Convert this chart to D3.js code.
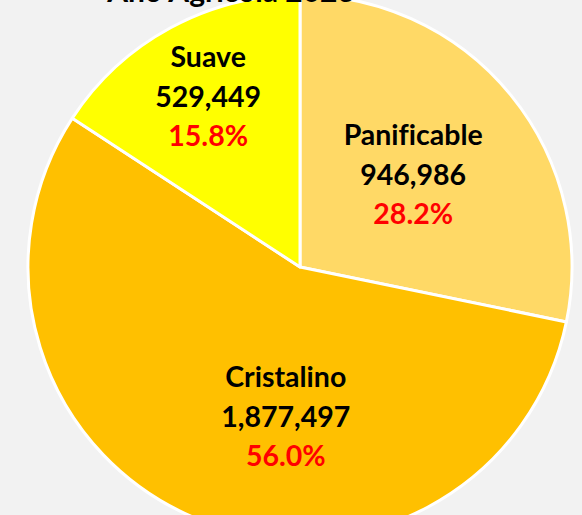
<!DOCTYPE html>
<html lang="es">
<head>
<meta charset="utf-8">
<script src="https://d3js.org/d3.v7.min.js"></script>
<style>
  html, body { margin: 0; padding: 0; background: #F2F2F2; }
  svg { display: block; }
  text { font-family: Lato, "Open Sans", sans-serif; font-weight: 700; font-variant-ligatures: none; }
</style>
</head>
<body>
<svg id="chart" width="582" height="515"></svg>
<script>
// data
const categories = ["Panificable", "Cristalino", "Suave"];
const values = [946986, 1877497, 529449];
const colors = ["#FFD966", "#FFC000", "#FFFF00"];
const title = "Año Agrícola 2023";

// label placement (Excel labels were moved by hand): radius and angle shift in degrees
const labelRadius = [146, 151, 193];
const labelShift = [0, -17, 0];

const W = 582, H = 515;
const cx = 300, cy = 267, R = 272;

const svg = d3.select("#chart");
svg.append("rect").attr("width", W).attr("height", H).attr("fill", "#F2F2F2");

const total = d3.sum(values);
const rows = categories.map((c, i) => ({ name: c, value: values[i], color: colors[i], i: i }));

const pie = d3.pie().sort(null).value(d => d.value);
const arc = d3.arc().innerRadius(0).outerRadius(R);
const arcs = pie(rows);

const g = svg.append("g").attr("transform", `translate(${cx},${cy})`);

g.selectAll("path.slice")
  .data(arcs)
  .enter()
  .append("path")
    .attr("class", "slice")
    .attr("d", arc)
    .attr("fill", d => d.data.color)
    .attr("stroke", "#FFFFFF")
    .attr("stroke-width", 3)
    .attr("stroke-linejoin", "round");

const fmtNum = d3.format(",");
const fmtPct = d3.format(".1%");

const labels = g.selectAll("text.lbl")
  .data(arcs)
  .enter()
  .append("text")
    .attr("class", "lbl")
    .attr("text-anchor", "middle")
    .attr("font-size", 28.5)
    .attr("transform", d => {
      const a = (d.startAngle + d.endAngle) / 2 + labelShift[d.data.i] * Math.PI / 180;
      const r = labelRadius[d.data.i];
      return `translate(${r * Math.sin(a)},${-r * Math.cos(a)})`;
    });

labels.append("tspan").attr("x", 0).attr("y", -30).attr("fill", "#000").text(d => d.data.name);
labels.append("tspan").attr("x", 0).attr("y", 10).attr("fill", "#000").text(d => fmtNum(d.data.value));
labels.append("tspan").attr("x", 0).attr("y", 49).attr("fill", "#FF0000").text(d => fmtPct(d.data.value / total));

// title sits mostly above the visible area, as in the reference
svg.append("text")
  .attr("x", 231)
  .attr("y", 2)
  .attr("text-anchor", "middle")
  .attr("font-size", 30)
  .attr("fill", "#000")
  .text(title);
</script>
</body>
</html>
